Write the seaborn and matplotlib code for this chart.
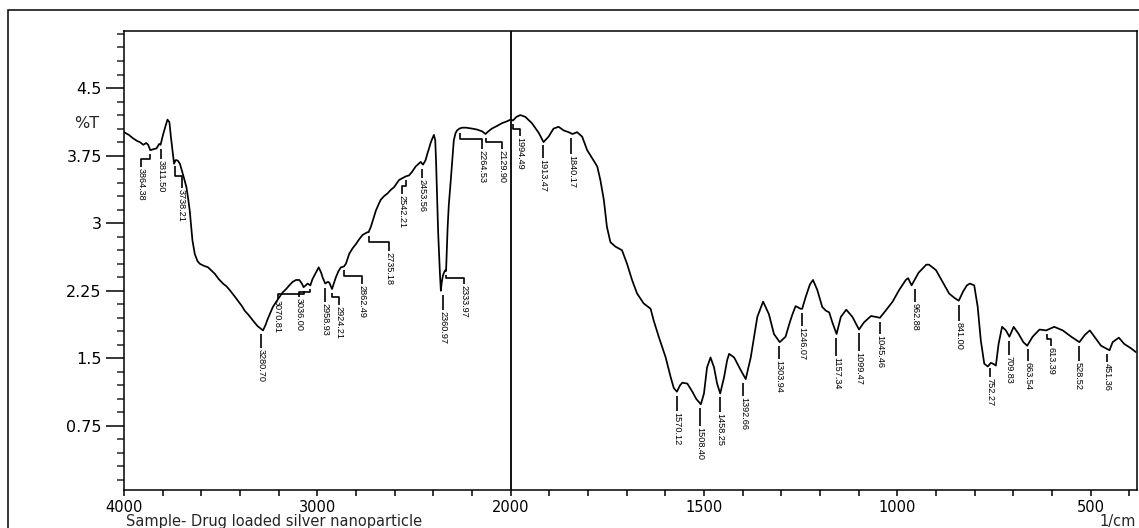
import numpy as np
import matplotlib
matplotlib.use("Agg")
import matplotlib.pyplot as plt
from matplotlib import font_manager
from matplotlib.ticker import FixedLocator, MultipleLocator, FixedFormatter
import seaborn as sns
import pandas as pd

# ---- FTIR spectrum: wavenumber (1/cm) and transmittance (%T) ----
wavenumber = [
    4000, 3975, 3952, 3930, 3918, 3900, 3885, 3875, 3864, 3850, 3832, 3818, 3811,
    3797, 3785, 3775, 3765, 3757, 3749, 3741, 3733, 3728, 3720, 3711, 3700, 3690,
    3677, 3668, 3660, 3652, 3646, 3634, 3620, 3608, 3590, 3565, 3531, 3510, 3488,
    3470, 3454, 3432, 3411, 3390, 3376, 3355, 3333, 3310, 3281, 3268, 3256, 3240,
    3230, 3212, 3196, 3180, 3161, 3145, 3127, 3110, 3093, 3080, 3071, 3060, 3050,
    3036, 3025, 3015, 3000, 2993, 2980, 2973, 2959, 2945, 2938, 2924, 2910, 2904,
    2890, 2878, 2862, 2852, 2835, 2818, 2800, 2784, 2766, 2750, 2741, 2735, 2723,
    2710, 2697, 2685, 2672, 2655, 2637, 2620, 2603, 2590, 2577, 2560, 2551, 2542,
    2526, 2510, 2491, 2475, 2465, 2453, 2440, 2431, 2422, 2414, 2405, 2397, 2390,
    2386, 2380, 2375, 2371, 2366, 2361, 2356, 2350, 2343, 2337, 2334, 2330, 2326,
    2320, 2311, 2302, 2294, 2285, 2277, 2265, 2251, 2230, 2200, 2175, 2148, 2130,
    2115, 2097, 2070, 2045, 2020, 2000, 1994, 1985, 1975, 1962, 1945, 1927, 1915,
    1902, 1889, 1876, 1863, 1850, 1840, 1828, 1815, 1802, 1789, 1776, 1768, 1759,
    1751, 1742, 1729, 1712, 1699, 1686, 1673, 1656, 1638, 1630, 1617, 1599, 1586,
    1578, 1570, 1562, 1556, 1543, 1530, 1520, 1508, 1500, 1492, 1483, 1474, 1466,
    1458, 1448, 1440, 1435, 1422, 1405, 1392, 1379, 1370, 1362, 1347, 1332, 1319,
    1304, 1289, 1278, 1271, 1263, 1250, 1246, 1237, 1226, 1218, 1207, 1194, 1185,
    1176, 1168, 1157, 1146, 1132, 1116, 1099, 1086, 1068, 1055, 1045, 1030, 1012,
    995, 978, 972, 963, 945, 925, 918, 900, 883, 866, 852, 841, 830, 820, 812, 801,
    792, 784, 775, 766, 758, 752, 745, 738, 729, 719, 710, 699, 686, 674, 664, 650,
    632, 615, 594, 572, 550, 529, 515, 502, 490, 473, 451, 443, 427, 413, 395, 383,
]
transmittance = [
    4.01, 3.98, 3.94, 3.91, 3.90, 3.87, 3.89, 3.87, 3.81, 3.82, 3.83, 3.88, 3.87,
    3.99, 4.08, 4.15, 4.12, 3.95, 3.81, 3.66, 3.70, 3.70, 3.69, 3.66, 3.58, 3.50,
    3.40, 3.27, 3.14, 2.95, 2.81, 2.66, 2.58, 2.55, 2.53, 2.51, 2.44, 2.38, 2.33,
    2.30, 2.26, 2.20, 2.14, 2.08, 2.03, 1.98, 1.92, 1.86, 1.81, 1.87, 1.94, 2.02,
    2.07, 2.13, 2.18, 2.23, 2.27, 2.31, 2.35, 2.37, 2.37, 2.33, 2.29, 2.31, 2.33,
    2.31, 2.38, 2.42, 2.48, 2.51, 2.45, 2.40, 2.33, 2.35, 2.34, 2.27, 2.36, 2.40,
    2.47, 2.51, 2.52, 2.55, 2.66, 2.72, 2.77, 2.82, 2.87, 2.89, 2.90, 2.90, 2.96,
    3.05, 3.14, 3.20, 3.26, 3.30, 3.33, 3.37, 3.40, 3.44, 3.48, 3.50, 3.51, 3.52,
    3.53, 3.57, 3.63, 3.66, 3.68, 3.65, 3.70, 3.77, 3.83, 3.89, 3.94, 3.98, 3.92,
    3.70, 3.26, 2.90, 2.70, 2.45, 2.25, 2.35, 2.42, 2.46, 2.48, 2.47, 2.70, 2.95,
    3.20, 3.44, 3.70, 3.92, 4.00, 4.03, 4.05, 4.06, 4.06, 4.05, 4.04, 4.02, 3.99,
    4.02, 4.05, 4.08, 4.11, 4.13, 4.15, 4.14, 4.18, 4.20, 4.18, 4.11, 4.00, 3.90,
    3.96, 4.05, 4.07, 4.03, 4.01, 3.99, 4.01, 3.96, 3.81, 3.72, 3.63, 3.48, 3.26,
    2.96, 2.79, 2.74, 2.70, 2.55, 2.37, 2.22, 2.11, 2.05, 1.92, 1.74, 1.51, 1.29,
    1.17, 1.13, 1.20, 1.23, 1.22, 1.13, 1.05, 0.99, 1.11, 1.40, 1.51, 1.40, 1.22,
    1.11, 1.29, 1.48, 1.55, 1.51, 1.37, 1.27, 1.51, 1.75, 1.96, 2.13, 1.99, 1.77,
    1.68, 1.74, 1.90, 1.99, 2.08, 2.05, 2.05, 2.18, 2.32, 2.37, 2.26, 2.07, 2.03,
    2.01, 1.90, 1.77, 1.96, 2.04, 1.96, 1.82, 1.90, 1.97, 1.96, 1.95, 2.03, 2.13,
    2.26, 2.37, 2.39, 2.31, 2.45, 2.54, 2.54, 2.48, 2.35, 2.22, 2.17, 2.14, 2.24, 2.31, 2.33, 2.31,
    2.07, 1.70, 1.44, 1.41, 1.45, 1.44, 1.42, 1.66, 1.85, 1.81, 1.74, 1.85, 1.77, 1.68, 1.64, 1.74,
    1.82, 1.81, 1.85, 1.81, 1.74, 1.68, 1.76, 1.81, 1.74, 1.64, 1.59, 1.68, 1.73, 1.66, 1.61, 1.57,
]

# Peak annotations (wavenumber strings as printed)
peak_labels = [
    "3864.38", "3811.50", "3738.21", "3280.70", "3070.81", "3036.00", "2958.93",
    "2924.21", "2862.49", "2735.18", "2542.21", "2453.56", "2360.97", "2333.97",
    "2264.53", "2129.90", "1994.49", "1913.47", "1840.17", "1570.12", "1508.40",
    "1458.25", "1392.66", "1303.94", "1246.07", "1157.34", "1099.47", "1045.46",
    "962.88", "841.00", "752.27", "709.83", "663.54", "613.39", "528.52", "451.36",
]
# leader layout: horizontal shift of the label and its drop below the curve (pixels)
label_shift = [-9, 1, 7, -2, -26, -11, 0, 7, 18, 20, -4, -1, 2, 18, 22, 16, 7, -1, -1,
               0, -1, 0, -2, -1, 0, 0, 0, 0, 3, 0, -3, 0, 1, 4, -1, -2]
label_drop = [18, 15, 27, 19, 13, 13, 19, 17, 19, 20, 19, 14, 20, 14, 21, 16, 17, 18, 21,
              20, 23, 20, 18, 18, 18, 23, 23, 17, 18, 21, 14, 19, 17, 17, 20, 13]

y_major = [0.75, 1.5, 2.25, 3, 3.75, 4.5]
y_major_text = ["0.75", "1.5", "2.25", "3", "3.75", "4.5"]
x_ticks = list(range(4000, 1999, -200)) + list(range(1900, 399, -100))
x_labelled = {4000: "4000", 3000: "3000", 2000: "2000", 1500: "1500", 1000: "1000", 500: "500"}


def pick_font(candidates):
    for name in candidates:
        try:
            font_manager.findfont(font_manager.FontProperties(family=name),
                                  fallback_to_default=False)
            return name
        except ValueError:
            continue
    return "DejaVu Sans"


sns.set_style("ticks")
plt.rcParams["font.family"] = ["DejaVu Sans"]
narrow = pick_font(["Liberation Sans Narrow", "Liberation Sans"])
peak_size = 8.0 if narrow == "Liberation Sans Narrow" else 6.6

W, H = 1139, 528
fig = plt.figure(figsize=(W / 100, H / 100), dpi=100)
fig.patch.set_facecolor("white")
ax = fig.add_axes([124 / W, 1 - 490 / H, (1137 - 124) / W, (490 - 31) / H])

df = pd.DataFrame({"wavenumber": wavenumber, "T": transmittance})
sns.lineplot(data=df, x="wavenumber", y="T", sort=False, estimator=None,
             color="black", linewidth=1.25, ax=ax)


# split wavenumber axis: 4000-2000 drawn at half the scale of 2000-400
def fwd(x):
    x = np.asarray(x, dtype=float)
    return np.where(x >= 2000, 2000 + (x - 2000) / 2.0, x)


def inv(u):
    u = np.asarray(u, dtype=float)
    return np.where(u >= 2000, 2000 + 2.0 * (u - 2000), u)


ax.set_xscale("function", functions=(fwd, inv))
ax.set_xlim(4000, 380)
ax.set_ylim(0.039, 5.133)
ax.set_xlabel("")
ax.set_ylabel("")

ax.axvline(2000, color="black", linewidth=1.3)

for s in ax.spines.values():
    s.set_linewidth(1.1)
    s.set_color("black")

ax.xaxis.set_major_locator(FixedLocator(x_ticks))
ax.xaxis.set_major_formatter(FixedFormatter([x_labelled.get(t, "") for t in x_ticks]))
ax.xaxis.set_minor_locator(FixedLocator([]))
ax.yaxis.set_major_locator(FixedLocator(y_major))
ax.yaxis.set_major_formatter(FixedFormatter(y_major_text))
ax.yaxis.set_minor_locator(MultipleLocator(0.15))

ax.tick_params(axis="x", which="major", direction="out", length=4.5, width=1.1,
               pad=2.5, labelsize=10.5, colors="black")
ax.tick_params(axis="y", which="major", direction="out", length=13, width=1.1,
               pad=3, labelsize=11.5, colors="black")
ax.tick_params(axis="y", which="minor", direction="out", length=5, width=1.1)

ax.annotate("%T", xy=(0, 4.11), xycoords=("axes fraction", "data"),
            xytext=(-17.5, 0), textcoords="offset points",
            ha="right", va="center", fontsize=11.5)

# peak markers with leader lines and vertical labels
wn_arr = np.array(wavenumber[::-1], dtype=float)
t_arr = np.array(transmittance[::-1], dtype=float)
to_px = ax.transData.transform
to_data = ax.transData.inverted().transform
for lab, dx, drop in zip(peak_labels, label_shift, label_drop):
    p = float(lab)
    tv = np.interp(p, wn_arr, t_arr)
    px, py = to_px((p, tv))
    if abs(dx) <= 3:
        # straight stem under the band, label hangs from it
        path = np.array([(px + dx, py - 4), (px + dx, py - drop + 1)])
    else:
        mid = py - max(6, drop * 0.5)
        path = np.array([(px, py - 4), (px, mid), (px + dx, mid), (px + dx, py - drop + 1)])
    pts = to_data(path)
    ax.plot(pts[:, 0], pts[:, 1], color="black", linewidth=1.2, solid_capstyle="butt")
    tx, ty = to_data((px + dx, py - drop))
    ax.text(tx, ty, lab, rotation=-90, ha="center", va="top",
            fontsize=peak_size, family=narrow, color="black")

fig.text(126 / W, 1 - 526 / H, "Sample- Drug loaded silver nanoparticle",
         ha="left", va="baseline", fontsize=10.5)
fig.text(1136 / W, 1 - 526 / H, "1/cm", ha="right", va="baseline", fontsize=10.5)

# outer border of the printout
fig.add_artist(plt.Rectangle((8 / W, -0.1), 1.2, 1.1 - 10 / H,
                             transform=fig.transFigure, fill=False,
                             edgecolor="black", linewidth=1.1, clip_on=False))

fig.savefig("out.png", dpi=100, facecolor="white")
